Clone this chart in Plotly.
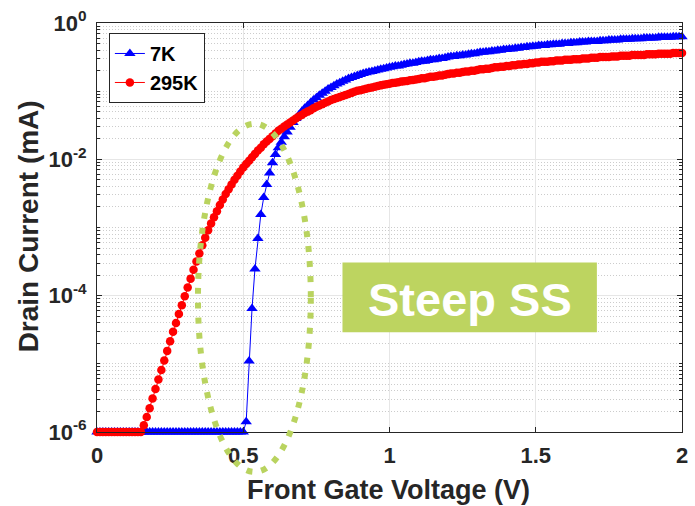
import numpy as np
import plotly.graph_objects as go

# Gate voltage sweep (V), 0 to 2 V in 10 mV steps
gate_voltage = [round(i * 0.01, 2) for i in range(201)]

# log10 of drain current (mA)
log_id_7K = (
    [-6.0] * 51 +
    [-5.85, -4.96, -4.19, -3.61, -3.16, -2.81, -2.56, -2.37, -2.20] +
    [-2.05, -1.93, -1.83, -1.75, -1.67, -1.60, -1.53, -1.46, -1.40, -1.35] +
    [-1.30, -1.25, -1.21, -1.17, -1.13, -1.095, -1.06, -1.03, -1.00, -0.97] +
    [-0.945, -0.92, -0.895, -0.875, -0.855, -0.835, -0.815, -0.80, -0.785, -0.77] +
    [-0.755, -0.74, -0.73, -0.72, -0.71, -0.70, -0.69, -0.68, -0.67, -0.66] +
    [-0.65, -0.64, -0.63, -0.63, -0.62, -0.61, -0.60, -0.59, -0.59, -0.58] +
    [-0.57, -0.56, -0.56, -0.55, -0.54, -0.54, -0.53, -0.52, -0.52, -0.51] +
    [-0.50, -0.49, -0.49, -0.48, -0.48, -0.47, -0.47, -0.46, -0.45, -0.45] +
    [-0.44, -0.43, -0.43, -0.42, -0.42, -0.41, -0.41, -0.40, -0.40, -0.39] +
    [-0.39, -0.38, -0.38, -0.37, -0.37, -0.36, -0.36, -0.35, -0.35, -0.34] +
    [-0.34, -0.33, -0.33, -0.33, -0.32, -0.32, -0.31, -0.31, -0.31, -0.30] +
    [-0.30, -0.30, -0.29, -0.29, -0.29, -0.28, -0.28, -0.28, -0.27, -0.27] +
    [-0.27, -0.27, -0.26, -0.26, -0.26, -0.25, -0.25, -0.25, -0.25, -0.24] +
    [-0.24, -0.24, -0.24, -0.23, -0.23, -0.23, -0.23, -0.22, -0.22, -0.22] +
    [-0.22, -0.22, -0.21, -0.21, -0.21, -0.21, -0.21, -0.20, -0.20, -0.20] +
    [-0.20]
)

log_id_295K = (
    [-6.0] * 16 +
    [-5.90, -5.78, -5.65, -5.51] +
    [-5.37, -5.23, -5.09, -4.95, -4.81, -4.67, -4.53, -4.40, -4.27, -4.14] +
    [-4.01, -3.88, -3.75, -3.62, -3.50, -3.38, -3.26, -3.15, -3.04, -2.94] +
    [-2.85, -2.76, -2.67, -2.59, -2.51, -2.44, -2.37, -2.30, -2.24, -2.18] +
    [-2.12, -2.07, -2.02, -1.97, -1.92, -1.87, -1.83, -1.78, -1.74, -1.70] +
    [-1.66, -1.62, -1.58, -1.55, -1.52, -1.49, -1.46, -1.43, -1.40, -1.37] +
    [-1.35, -1.32, -1.30, -1.28, -1.25, -1.23, -1.21, -1.19, -1.17, -1.15] +
    [-1.13, -1.115, -1.10, -1.085, -1.07, -1.055, -1.04, -1.025, -1.01, -0.995] +
    [-0.985, -0.975, -0.965, -0.955, -0.945, -0.935, -0.925, -0.915, -0.905, -0.897] +
    [-0.89, -0.88, -0.875, -0.87, -0.86, -0.855, -0.85, -0.84, -0.835, -0.83] +
    [-0.82, -0.81, -0.81, -0.80, -0.79, -0.79, -0.78, -0.77, -0.77, -0.76] +
    [-0.75, -0.74, -0.74, -0.73, -0.73, -0.72, -0.71, -0.71, -0.70, -0.70] +
    [-0.69, -0.68, -0.68, -0.67, -0.67, -0.66, -0.65, -0.65, -0.64, -0.64] +
    [-0.63, -0.63, -0.62, -0.62, -0.61, -0.61, -0.60, -0.60, -0.59, -0.59] +
    [-0.58, -0.58, -0.57, -0.57, -0.57, -0.56, -0.56, -0.55, -0.55, -0.55] +
    [-0.54, -0.54, -0.54, -0.53, -0.53, -0.53, -0.52, -0.52, -0.52, -0.51] +
    [-0.51, -0.51, -0.50, -0.50, -0.50, -0.50, -0.49, -0.49, -0.49, -0.48] +
    [-0.48, -0.48, -0.48, -0.47, -0.47, -0.47, -0.47, -0.47, -0.46, -0.46] +
    [-0.46, -0.46, -0.45, -0.45, -0.45, -0.45, -0.45, -0.44, -0.44, -0.44] +
    [-0.44]
)

assert len(log_id_7K) == len(gate_voltage) == len(log_id_295K)

series_names = ["7K", "295K"]
y_tick_values = [1e-6, 1e-4, 1e-2, 1e0]
y_tick_labels = ["10<sup>-6</sup>", "10<sup>-4</sup>", "10<sup>-2</sup>", "10<sup>0</sup>"]
x_tick_values = [0, 0.5, 1, 1.5, 2]
x_tick_labels = ["0", "0.5", "1", "1.5", "2"]

id_7K = [10 ** v for v in log_id_7K]
id_295K = [10 ** v for v in log_id_295K]

FONT = "Arial, Liberation Sans, Helvetica, sans-serif"
TXT = "#262626"

fig = go.Figure()
fig.add_trace(go.Scatter(
    x=gate_voltage, y=id_7K, name=series_names[0], mode="lines+markers",
    line=dict(color="#0000ff", width=1),
    marker=dict(symbol="triangle-up", size=10, color="#0000ff", line=dict(width=0)),
    cliponaxis=False,
))
fig.add_trace(go.Scatter(
    x=gate_voltage, y=id_295K, name=series_names[1], mode="lines+markers",
    line=dict(color="#ff0000", width=1),
    marker=dict(symbol="circle", size=8.5, color="#ff0000", line=dict(width=0)),
    cliponaxis=False,
))

minor_vals = []
for e in range(-6, 0):
    for k in range(1, 10):
        v = k * 10 ** e
        if k == 1 and e % 2 == 0:
            continue
        minor_vals.append(v)

fig.update_layout(
    width=695, height=506,
    margin=dict(l=97, r=7, t=22, b=74),
    paper_bgcolor="white", plot_bgcolor="white",
    showlegend=True,
    legend=dict(
        x=0.0203, y=0.9756, xanchor="left", yanchor="top",
        bgcolor="white", bordercolor="#262626", borderwidth=1,
        font=dict(family=FONT, size=20, color="#000000", weight="bold"),
        tracegroupgap=0, itemwidth=30,
    ),
    xaxis=dict(
        range=[0, 2], tickvals=x_tick_values, ticktext=x_tick_labels,
        showline=True, linecolor="#262626", linewidth=1, mirror="allticks",
        ticks="inside", ticklen=5, tickcolor="#262626",
        showgrid=True, gridcolor="#e6e6e6", gridwidth=1,
        zeroline=False,
        tickfont=dict(family=FONT, size=22, color=TXT, weight="bold"),
        ticklabelstandoff=4,
    ),
    yaxis=dict(
        type="log", range=[-6, 0], tickvals=y_tick_values, ticktext=y_tick_labels,
        showline=True, linecolor="#262626", linewidth=1, mirror="allticks",
        ticks="inside", ticklen=5, tickcolor="#262626",
        showgrid=True, gridcolor="#e6e6e6", gridwidth=1,
        zeroline=False,
        tickfont=dict(family=FONT, size=22, color=TXT, weight="bold"),
        ticklabelstandoff=5,
        minor=dict(tickvals=minor_vals, ticks="inside", ticklen=3, tickcolor="#262626",
                   showgrid=True, gridcolor="#cccccc", griddash="1px,2px", gridwidth=1),
    ),
)

# Dotted ellipse highlighting the steep subthreshold region
fig.add_shape(
    type="circle", xref="paper", yref="paper",
    x0=0.1726, x1=0.3655, y0=-0.0976, y1=0.7537,
    line=dict(color="#b9d35f", width=6, dash="6px,9px"),
    layer="above",
)
# "Steep SS" label box
fig.add_shape(
    type="rect", xref="paper", yref="paper",
    x0=0.4196, x1=0.8545, y0=0.2439, y1=0.4146,
    fillcolor="#bdd460", line=dict(width=0), layer="above",
)
fig.add_annotation(
    text="Steep SS", xref="paper", yref="paper", x=0.637, y=0.325,
    showarrow=False, xanchor="center", yanchor="middle",
    font=dict(family=FONT, size=47, color="white", weight="bold"),
)
# Axis titles
fig.add_annotation(
    text="Front Gate Voltage (V)", xref="paper", yref="paper", x=0.499, y=-0.142,
    showarrow=False, xanchor="center", yanchor="middle",
    font=dict(family=FONT, size=27, color=TXT, weight="bold"),
)
fig.add_annotation(
    text="Drain Current (mA)", xref="paper", yref="paper", x=-0.1168, y=0.502,
    showarrow=False, xanchor="center", yanchor="middle", textangle=-90,
    font=dict(family=FONT, size=28, color=TXT, weight="bold"),
)

fig.write_html("out.html")
